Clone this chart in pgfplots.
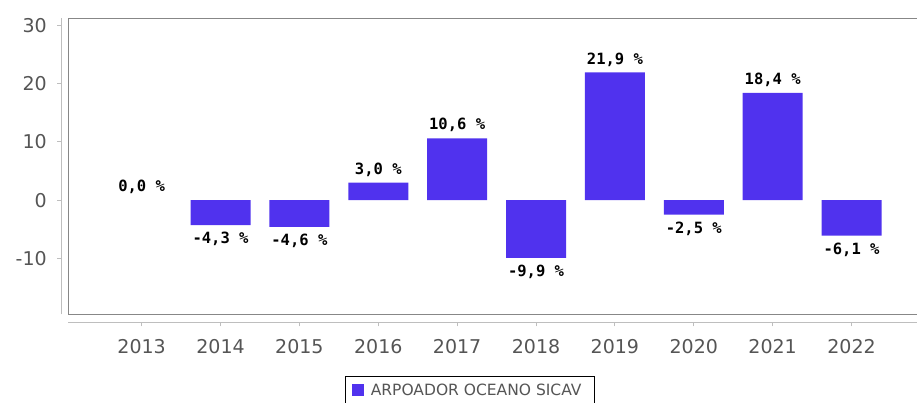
\documentclass[border=0pt]{standalone}
\usepackage{fontspec}
\setmainfont{DejaVu Sans}
\setmonofont{DejaVu Sans Mono}
\usepackage{pgfplots}
\pgfplotsset{compat=1.18}
\definecolor{barc}{RGB}{80,50,238}
\definecolor{tickc}{RGB}{85,85,85}
\definecolor{boxc}{RGB}{135,135,135}
\definecolor{axc}{RGB}{190,190,190}
\begin{document}
\begin{tikzpicture}[x=1pt,y=1pt]
\path[use as bounding box] (0,0) rectangle (917,403);
\begin{axis}[
  at={(68.3pt,88.7pt)}, anchor=south west,
  scale only axis, width=848.7pt, height=296pt,
  xmin=-0.93, xmax=9.83, ymin=-19.6, ymax=31.2,
  axis lines=left, axis line style={-},
  axis x line shift=8pt, axis y line shift=7pt,
  x axis line style={axc, line width=1.3pt},
  y axis line style={axc, line width=1.3pt},
  clip=false,
  ytick={-10,0,10,20,30},
  xtick={0,1,2,3,4,5,6,7,8,9},
  xticklabels={2013,2014,2015,2016,2017,2018,2019,2020,2021,2022},
  tick align=outside, major tick length=4pt,
  tick style={axc, line width=1pt},
  ticklabel style={font=\fontsize{19}{22}\selectfont, text=tickc},
  xticklabel style={yshift=-10pt},
  yticklabel style={xshift=-7pt},
  /pgf/number format/assume math mode=true,
  ybar, bar width=60pt, bar shift=0pt,
  visualization depends on={y \as \rawy},
  every node near coord/.append style={font=\ttfamily\bfseries\fontsize{15.5}{18}\selectfont, text=black, anchor=center, yshift={ifthenelse(\rawy<0,-14,13)}},
  legend style={at={(0.4735,0)}, anchor=north, yshift=-62pt, draw=black, line width=1pt, font=\fontsize{15.5}{18}\selectfont, text=tickc, inner xsep=6pt, inner ysep=5pt, nodes={inner xsep=7pt}},
  legend image code/.code={\fill[barc] (0pt,-6pt) rectangle (12pt,6pt);},
]
\addplot[fill=barc, draw=none, bar shift=0pt,
  nodes near coords={\pgfmathprintnumber[fixed,fixed zerofill,precision=1,use comma,assume math mode=true]{\pgfplotspointmeta}~\%}] coordinates {
  (1,-4.3) (2,-4.6) (3,3.0) (4,10.6) (5,-9.9) (6,21.9) (7,-2.5) (8,18.4) (9,-6.1)
};
\addlegendentry{ARPOADOR OCEANO SICAV}
\addplot[draw=none, fill=none, forget plot, bar shift=0pt,
  nodes near coords={\pgfmathprintnumber[fixed,fixed zerofill,precision=1,use comma,assume math mode=true]{\pgfplotspointmeta}~\%}] coordinates {(0,0.0)};
\draw[boxc, line width=1.3pt] (rel axis cs:1.02,1) -- (rel axis cs:0,1) -- (rel axis cs:0,0) -- (rel axis cs:1.02,0);
\end{axis}
\end{tikzpicture}
\end{document}
